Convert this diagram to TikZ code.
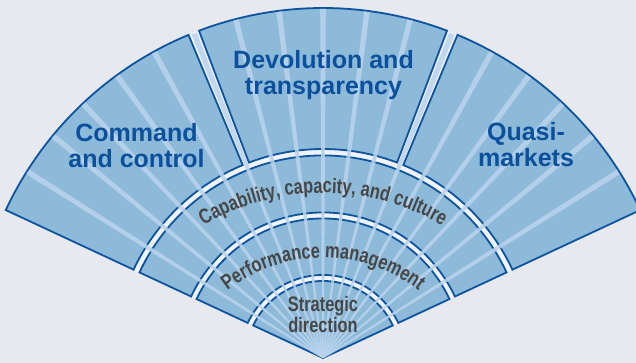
\documentclass[tikz,border=0pt]{standalone}
\usepackage{fontspec}
\usetikzlibrary{decorations.text}
\newfontfamily\outerfont{Liberation Sans Bold}
\newfontfamily\innerfont[FakeStretch=0.78]{Liberation Sans Bold}
\definecolor{pagebg}{RGB}{232,233,239}
\definecolor{gapwhite}{RGB}{240,244,250}
\definecolor{segfill}{RGB}{141,186,217}
\definecolor{segline}{RGB}{12,84,160}
\definecolor{raycol}{RGB}{186,211,236}
\definecolor{outertext}{RGB}{10,80,156}
\definecolor{innertext}{RGB}{70,70,70}
\newcommand\innerstyle{\innerfont\fontsize{21}{21}\selectfont\color{innertext}}
\newcommand\fansector[4]{(#1:#3) -- (#1:#4) arc[start angle=#1, end angle=#2, radius=#4] -- (#2:#3) arc[start angle=#2, end angle=#1, radius=#3] -- cycle}
\tikzset{
  seg/.style={fill=segfill, draw=segline, line width=1.8pt, line join=miter},
  ray/.style={fill=raycol, fill opacity=0.85},
  outerlabel/.style={font=\outerfont\fontsize{25}{26}\selectfont, text=outertext, align=center, anchor=base, inner sep=0pt},
  innerlabel/.style={font=\innerfont\fontsize{21}{21}\selectfont, text=innertext, align=center, anchor=base, inner sep=0pt},
  curvedlabel/.style={decorate, decoration={text along path, text align=center, text={|\innerstyle|#1}}}
}
\begin{document}
\begin{tikzpicture}[x=1pt,y=1pt]
\fill[pagebg] (0,0) rectangle (636,363);
\useasboundingbox (0,0) rectangle (636,363);
\begin{scope}[shift={(323,5)}]
  \fill[gapwhite] (0,0) -- (25:350) arc[start angle=25,end angle=155,radius=350] -- cycle;
  \path[seg] \fansector{112.6}{155}{209}{350};
  \path[seg] \fansector{69.25}{110.75}{209}{350};
  \path[seg] \fansector{25}{67.4}{209}{350};
  \path[seg] \fansector{25}{155}{145.5}{202.5};
  \path[seg] \fansector{25}{155}{83}{139.5};
  \path[seg] (0,0) -- (25:77) arc[start angle=25,end angle=155,radius=77] -- cycle;
  \begin{scope}
    \clip (0,0) -- (25:349) arc[start angle=25,end angle=155,radius=349] -- cycle;
    \foreach \k in {1,...,17}{
      \pgfmathsetmacro\ang{25+130/18*\k}
      \fill[ray, rotate=\ang] (0,0.8) -- (349,2.8) -- (349,-2.8) -- (0,-0.8) -- cycle;
    }
  \end{scope}
\end{scope}
\node[outerlabel] (cmd) at (136.5,195) {Command\\and control};
\node[outerlabel] (dev) at (323.5,268) {Devolution and\\transparency};
\node[outerlabel] (quasi) at (526,196) {Quasi-\\markets};
\node[innerlabel] (strat) at (323,30) {Strategic\\direction};
\path[curvedlabel={Capability, capacity, and culture}] (323,-63) ++(130:233) arc[start angle=130, end angle=50, radius=233];
\path[curvedlabel={Performance management}] (323,-52) ++(135:157) arc[start angle=135, end angle=45, radius=157];
\end{tikzpicture}
\end{document}
